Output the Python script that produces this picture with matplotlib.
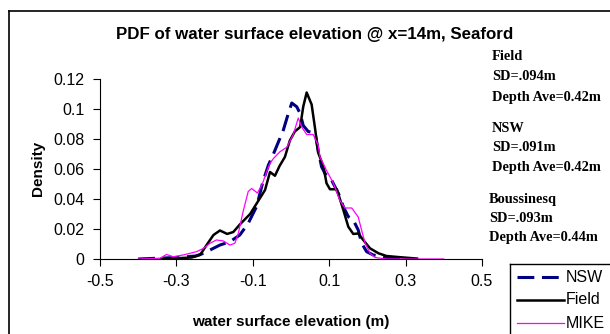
import matplotlib
matplotlib.use("Agg")
import matplotlib.pyplot as plt
from matplotlib.lines import Line2D

# ---- data ----
field_x = [-0.34, -0.30, -0.26, -0.238, -0.221, -0.203, -0.186, -0.167, -0.151, -0.134,
           -0.107, -0.090, -0.068, -0.055, -0.042, -0.030, -0.016, -0.003, 0.010, 0.024,
           0.032, 0.041, 0.054, 0.063, 0.071, 0.085, 0.093, 0.102, 0.120, 0.137,
           0.150, 0.163, 0.176, 0.189, 0.207, 0.229, 0.250, 0.285, 0.33]
field_y = [0.0, 0.0005, 0.001, 0.0027, 0.0093, 0.016, 0.019, 0.0167, 0.018, 0.023,
           0.030, 0.037, 0.046, 0.058, 0.0555, 0.062, 0.068, 0.079, 0.085, 0.088,
           0.1015, 0.111, 0.103, 0.087, 0.071, 0.0615, 0.0505, 0.0465, 0.0465, 0.0327,
           0.0215, 0.0167, 0.017, 0.0127, 0.0071, 0.0038, 0.002, 0.0012, 0.0003]

nsw_x = [-0.40, -0.30, -0.25, -0.229, -0.212, -0.186, -0.160, -0.134, -0.112, -0.090,
         -0.073, -0.059, -0.046, -0.020, -0.007, 0.002, 0.015, 0.024, 0.032, 0.045,
         0.063, 0.071, 0.080, 0.089, 0.106, 0.124, 0.137, 0.150, 0.163, 0.176,
         0.185, 0.198, 0.215, 0.25, 0.29]
nsw_y = [0.0, 0.001, 0.002, 0.0038, 0.006, 0.0093, 0.0115, 0.016, 0.0238, 0.035,
         0.052, 0.0627, 0.070, 0.086, 0.097, 0.104, 0.1015, 0.097, 0.089, 0.085,
         0.084, 0.0727, 0.0615, 0.057, 0.0527, 0.0438, 0.0349, 0.0282, 0.026, 0.0193,
         0.0105, 0.0049, 0.0027, 0.001, 0.0]

mike_x = [-0.40, -0.343, -0.326, -0.308, -0.282, -0.247, -0.229, -0.212, -0.195, -0.177,
          -0.160, -0.147, -0.138, -0.125, -0.112, -0.103, -0.088, -0.075, -0.064, -0.055,
          -0.046, -0.029, -0.011, 0.006, 0.019, 0.028, 0.041, 0.058, 0.071, 0.076,
          0.093, 0.111, 0.128, 0.141, 0.159, 0.176, 0.185, 0.194, 0.207, 0.220,
          0.25, 0.40]
mike_y = [0.0, 0.0005, 0.003, 0.0015, 0.0027, 0.0049, 0.0071, 0.0105, 0.0127, 0.012,
          0.0093, 0.0105, 0.017, 0.032, 0.045, 0.047, 0.044, 0.050, 0.058, 0.0638,
          0.067, 0.0715, 0.0745, 0.083, 0.094, 0.088, 0.083, 0.083, 0.076, 0.068,
          0.059, 0.0505, 0.039, 0.034, 0.034, 0.028, 0.019, 0.0105, 0.0038, 0.001,
          0.0, 0.0]

x_ticks = [-0.5, -0.3, -0.1, 0.1, 0.3, 0.5]
x_tick_labels = ["-0.5", "-0.3", "-0.1", "0.1", "0.3", "0.5"]
y_ticks = [0, 0.02, 0.04, 0.06, 0.08, 0.1, 0.12]
y_tick_labels = ["0", "0.02", "0.04", "0.06", "0.08", "0.1", "0.12"]

title = "PDF of water surface elevation @ x=14m, Seaford"
xlabel = "water surface elevation (m)"
ylabel = "Density"
notes = [("Field", 492, 57), ("SD=.094m", 492, 77), ("Depth Ave=0.42m", 492, 97),
         ("NSW", 492, 128), ("SD=.091m", 492, 148), ("Depth Ave=0.42m", 492, 167),
         ("Boussinesq", 489, 200), ("SD=.093m", 489, 218), ("Depth Ave=0.44m", 489, 237)]

W, H = 610, 334
fig = plt.figure(figsize=(W / 100, H / 100), dpi=100)
plt.rcParams['font.family'] = ['Liberation Sans', 'DejaVu Sans']

def fx(px):
    return px / W

def fy(py):
    return 1 - py / H

NSW_DASH = (5.5, 2.5)

ax = fig.add_axes([fx(100), fy(259), fx(482) - fx(100), fy(79) - fy(259)])
ax.plot(nsw_x, nsw_y, color="#000080", lw=2.2, dashes=NSW_DASH, label="NSW")
ax.plot(field_x, field_y, color="black", lw=1.8, label="Field")
ax.plot(mike_x, mike_y, color="#FF00FF", lw=0.9, label="MIKE")

ax.set_xlim(-0.5, 0.5)
ax.set_ylim(0, 0.12)
ax.set_xticks(x_ticks)
ax.set_xticklabels(x_tick_labels)
ax.set_yticks(y_ticks)
ax.set_yticklabels(y_tick_labels)
ax.tick_params(axis="both", labelsize=11.5, direction="out", length=5, width=0.8,
               color="#000000", pad=6)
for s in ["top", "right"]:
    ax.spines[s].set_visible(False)
for s in ["left", "bottom"]:
    ax.spines[s].set_linewidth(0.8)
ax.patch.set_alpha(0)

fig.text(fx(315), fy(35), title, ha="center", va="center", fontsize=12.2, fontweight="bold")
fig.text(fx(291), fy(322), xlabel, ha="center", va="center", fontsize=11, fontweight="bold")
fig.text(fx(38), fy(168), ylabel, ha="center", va="center", fontsize=11,
         fontweight="bold", rotation=90)

for txt, px, py in notes:
    fig.text(fx(px), fy(py), txt, ha="left", va="center", fontsize=10.4,
             fontweight="bold", family=["Liberation Serif", "DejaVu Serif"])

# outer chart border
fig.add_artist(Line2D([fx(9), fx(9)], [fy(11), fy(340)], color="black", lw=1.2))
fig.add_artist(Line2D([fx(9), fx(620)], [fy(11), fy(11)], color="black", lw=1.2))

# legend box (cut by figure edge)
fig.add_artist(Line2D([fx(510), fx(510)], [fy(264), fy(340)], color="black", lw=1.0))
fig.add_artist(Line2D([fx(510), fx(620)], [fy(264), fy(264)], color="black", lw=1.0))
handles, labels = ax.get_legend_handles_labels()
leg_y = [277, 300, 323]
for h, lab, py in zip(handles, labels, leg_y):
    ln = Line2D([fx(517), fx(564)], [fy(py), fy(py)], color=h.get_color(),
                lw=h.get_linewidth(), transform=fig.transFigure)
    if lab == "NSW":
        ln.set_dashes(NSW_DASH)
    fig.add_artist(ln)
    fig.text(fx(566), fy(py), lab, ha="left", va="center", fontsize=11.5)

fig.savefig("out.png", dpi=100)
